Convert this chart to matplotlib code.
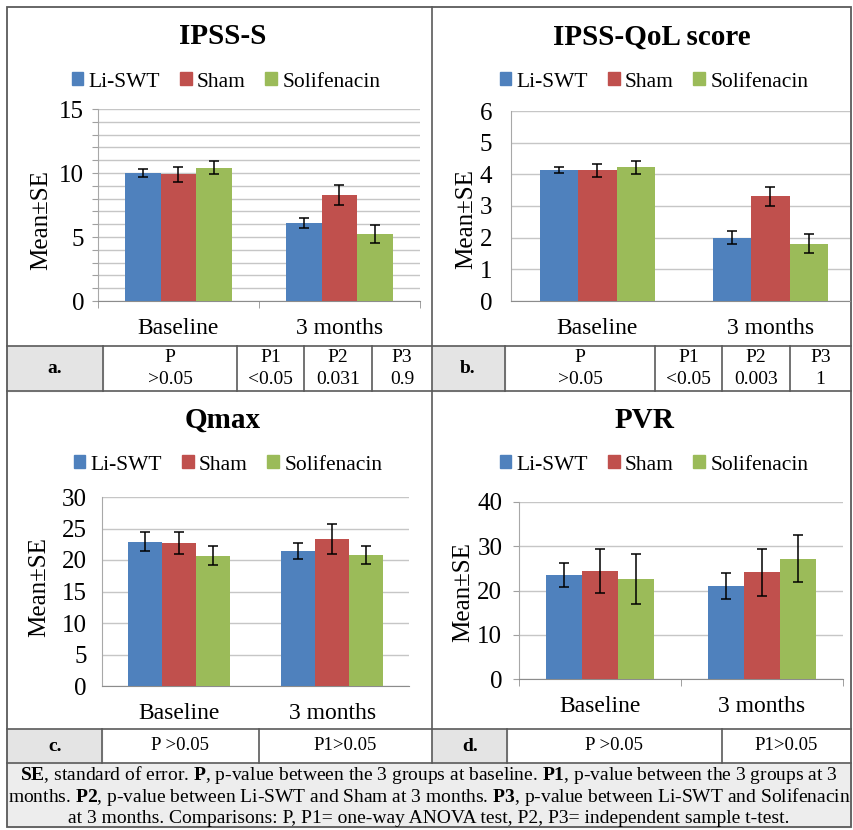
import matplotlib
matplotlib.use('Agg')
import matplotlib.pyplot as plt
import numpy as np
from matplotlib.patches import Rectangle

plt.rcParams['font.family'] = ['Liberation Serif', 'DejaVu Serif']
plt.rcParams['mathtext.fontset'] = 'custom'
plt.rcParams['mathtext.rm'] = 'Liberation Serif'
plt.rcParams['mathtext.bf'] = 'Liberation Serif:bold'

# data
groups = ['Li-SWT', 'Sham', 'Solifenacin']
colors = ['#4F81BD', '#C0504D', '#9BBB59']
times = ['Baseline', '3 months']

ipss_mean = [[10.0, 6.1], [9.9, 8.3], [10.4, 5.2]]
ipss_se = [[0.3, 0.4], [0.6, 0.8], [0.5, 0.7]]
qol_mean = [[4.13, 2.0], [4.13, 3.3], [4.22, 1.8]]
qol_se = [[0.1, 0.2], [0.2, 0.3], [0.2, 0.3]]
qmax_mean = [[22.9, 21.4], [22.7, 23.3], [20.7, 20.8]]
qmax_se = [[1.5, 1.25], [1.75, 2.4], [1.55, 1.4]]
pvr_mean = [[23.5, 21.0], [24.4, 24.1], [22.6, 27.2]]
pvr_se = [[2.8, 3.0], [5.0, 5.3], [5.7, 5.35]]

row_a = [('P', '>0.05'), ('P1', '<0.05'), ('P2', '0.031'), ('P3', '0.9')]
row_b = [('P', '>0.05'), ('P1', '<0.05'), ('P2', '0.003'), ('P3', '1')]
row_c = ['P >0.05', 'P1>0.05']
row_d = ['P >0.05', 'P1>0.05']

footnote = [r'$\mathbf{SE}$, standard of error. $\mathbf{P}$, p-value between the 3 groups at baseline. '
            r'$\mathbf{P1}$, p-value between the 3 groups at 3',
            r'months. $\mathbf{P2}$, p-value between Li-SWT and Sham at 3 months. '
            r'$\mathbf{P3}$, p-value between Li-SWT and Solifenacin',
            'at 3 months. Comparisons: P, P1= one-way ANOVA test, P2, P3= independent sample t-test.']

W, H = 854, 830
fig = plt.figure(figsize=(W / 100, H / 100), dpi=100)
fig.patch.set_facecolor('white')

# overlay axes in pixel coords for the frame / table
ov = fig.add_axes([0, 0, 1, 1], zorder=0)
ov.set_xlim(0, W)
ov.set_ylim(H, 0)
ov.axis('off')


def px_rect(x0, x1, ytop, ybot):
    return [x0 / W, 1 - ybot / H, (x1 - x0) / W, (ybot - ytop) / H]


LC = '#5a5a5a'
L, R, T, B = 7, 851, 7, 827

# fills
ov.add_patch(Rectangle((L, 763), R - L, B - 763, color='#ededed', zorder=0))
for (x0, x1, y0, y1) in [(L, 103, 346, 391), (432, 505, 346, 391),
                         (L, 102, 729, 763), (432, 507, 729, 763)]:
    ov.add_patch(Rectangle((x0, y0), x1 - x0, y1 - y0, color='#e4e4e4', zorder=0))

# lines
ov.add_patch(Rectangle((L, T), R - L, B - T, fill=False, ec=LC, lw=1.3, zorder=2))
for y in [346, 391, 729, 763]:
    ov.plot([L, R], [y, y], color=LC, lw=1.2)
ov.plot([432, 432], [T, 763], color=LC, lw=1.2)
for x in [103, 237, 304, 372, 505, 655, 722, 790]:
    ov.plot([x, x], [346, 391], color=LC, lw=1.2)
for x in [102, 259, 507, 722]:
    ov.plot([x, x], [729, 763], color=LC, lw=1.2)

# table text
ov.text(55, 368, 'a.', ha='center', va='center', fontsize=14, fontweight='bold')
ov.text(468, 368, 'b.', ha='center', va='center', fontsize=14, fontweight='bold')
ov.text(55, 746, 'c.', ha='center', va='center', fontsize=14, fontweight='bold')
ov.text(470, 746, 'd.', ha='center', va='center', fontsize=14, fontweight='bold')

for cells, edges in [(row_a, [103, 237, 304, 372, 432]), (row_b, [505, 655, 722, 790, 851])]:
    for k, (top, bot) in enumerate(cells):
        cx = (edges[k] + edges[k + 1]) / 2
        ov.text(cx, 357, top, ha='center', va='center', fontsize=14)
        ov.text(cx, 379, bot, ha='center', va='center', fontsize=14)

for cells, edges in [(row_c, [102, 259, 432]), (row_d, [507, 722, 851])]:
    for k, t in enumerate(cells):
        ov.text((edges[k] + edges[k + 1]) / 2, 745, t, ha='center', va='center', fontsize=13.5)

for k, line in enumerate(footnote):
    ov.text(429, 775 + 21.5 * k, line, ha='center', va='center', fontsize=14)

# chart panels
panels = [
    dict(title='IPSS-S', mean=ipss_mean, se=ipss_se, ymax=15, grid=1, lab=5,
         box=(98, 420, 109, 301), xlim=(-0.5, 1.5), tpos=(223, 37), lpos=(226, 82),
         ypos=(40, 220), ticks=True, pad=6),
    dict(title='IPSS-QoL score', mean=qol_mean, se=qol_se, ymax=6, grid=1, lab=1,
         box=(511, 850, 111, 301), xlim=(-0.5, 1.46), tpos=(652, 37), lpos=(654, 82),
         ypos=(465, 219), ticks=False, pad=13.5),
    dict(title='Qmax', mean=qmax_mean, se=qmax_se, ymax=30, grid=5, lab=5,
         box=(102, 409, 497, 686), xlim=(-0.5, 1.5), tpos=(223, 420), lpos=(228, 465),
         ypos=(38, 587), ticks=False, pad=11),
    dict(title='PVR', mean=pvr_mean, se=pvr_se, ymax=40, grid=10, lab=10,
         box=(519, 843, 502, 679), xlim=(-0.5, 1.5), tpos=(645, 420), lpos=(654, 465),
         ypos=(462, 592), ticks=True, pad=8),
]

x = np.arange(len(times))
w = 0.222
handles = [Rectangle((0, 0), 1, 1, color=c) for c in colors]

for p in panels:
    ax = fig.add_axes(px_rect(*p['box']), zorder=1)
    ax.set_facecolor('none')
    for i in range(3):
        ax.bar(x + (i - 1) * w, p['mean'][i], w, yerr=p['se'][i], color=colors[i],
               zorder=3, error_kw=dict(ecolor='black', elinewidth=1.1, capsize=3.5, capthick=1.1))
    ax.set_xlim(*p['xlim'])
    ax.set_ylim(0, p['ymax'])
    yt = np.arange(0, p['ymax'] + 1e-6, p['grid'])
    ax.set_yticks(yt)
    ax.set_yticklabels([str(int(v)) if abs(v % p['lab']) < 1e-6 else '' for v in yt], fontsize=18)
    ax.yaxis.grid(True, color='#c6c6c6', lw=1)
    ax.set_axisbelow(True)
    ax.set_xticks(x)
    ax.set_xticklabels(times, fontsize=17)
    ax.tick_params(axis='x', length=0, pad=12)
    if p['ticks']:
        ax.set_xticks([-0.5, 0.5, 1.5], minor=True)
        ax.tick_params(axis='x', which='minor', length=5, color='#909090')
        ax.tick_params(axis='y', length=4, color='#a0a0a0', pad=p['pad'])
    else:
        ax.tick_params(axis='y', length=0, pad=p['pad'])
    for s in ['top', 'right']:
        ax.spines[s].set_visible(False)
    ax.spines['left'].set_color('#a8a8a8')
    ax.spines['bottom'].set_color('#8c8c8c')
    ax.set_ylabel('Mean±SE', fontsize=18)
    ax.yaxis.set_label_coords(p['ypos'][0] + 12, p['ypos'][1], transform=ov.transData)
    ov.text(p['tpos'][0], p['tpos'][1], p['title'], ha='center', va='center',
            fontsize=21, fontweight='bold')
    ax.legend(handles, groups, loc='center', bbox_to_anchor=p['lpos'],
              bbox_transform=ov.transData, ncol=3, frameon=False, fontsize=15.5,
              handlelength=0.55, handleheight=0.55, handletextpad=0.25,
              columnspacing=0.9, borderpad=0)

fig.savefig('out.png', dpi=100)
